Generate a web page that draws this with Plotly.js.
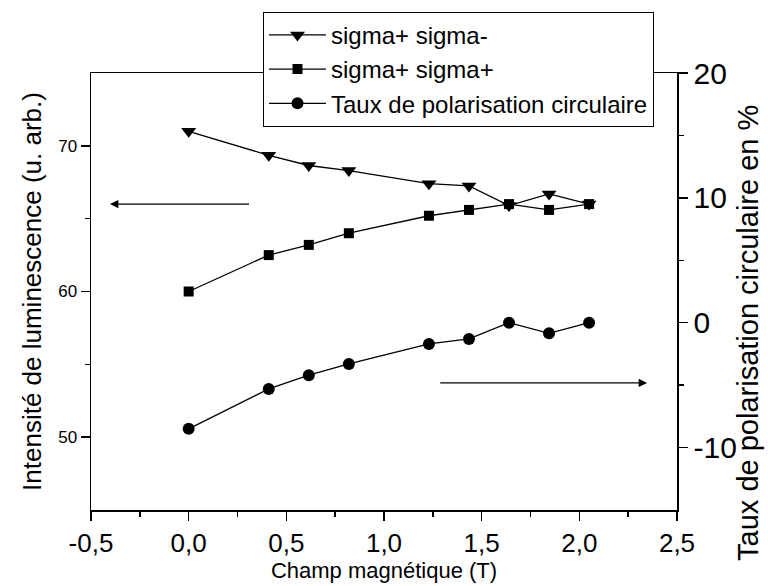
<!DOCTYPE html>
<html>
<head>
<meta charset="utf-8">
<script src="https://cdn.plot.ly/plotly-3.0.1.min.js"></script>
<style>html,body{margin:0;padding:0;background:#fff;}#chart{width:768px;height:586px;}</style>
</head>
<body>
<div id="chart"></div>
<script>
// Champ magnétique (T)
const champ = [0, 0.41, 0.615, 0.82, 1.23, 1.435, 1.64, 1.845, 2.05];
// Intensité de luminescence (u. arb.)
const sigmaPlusSigmaMinus = [71.0, 69.35, 68.65, 68.3, 67.4, 67.25, 65.9, 66.7, 66.0];
const sigmaPlusSigmaPlus = [60.0, 62.5, 63.2, 64.0, 65.2, 65.6, 66.0, 65.6, 66.0];
// Taux de polarisation circulaire en %
const tauxPolarisation = [-8.5, -5.3, -4.2, -3.3, -1.7, -1.3, 0.0, -0.85, 0.0];

const xTickVals = [-0.5, 0, 0.5, 1.0, 1.5, 2.0, 2.5];
const xTickText = ["-0,5", "0,0", "0,5", "1,0", "1,5", "2,0", "2,5"];
const xMinorVals = [-0.25, 0.25, 0.75, 1.25, 1.75, 2.25];
const yTickVals = [50, 60, 70];
const yTickText = ["50", "60", "70"];
const yMinorVals = [55, 65];
const y2TickVals = [-10, 0, 10, 20];
const y2TickText = ["-10", "0", "10", "20"];
const y2MinorVals = [-5, 5, 15];
const y2TitleText = "Taux de polarisation circulaire en %";

const FONT = "Arial, 'Liberation Sans', sans-serif";
const lineStyle = {color: "#000", width: 1.3};

const traces = [
  {x: champ, y: sigmaPlusSigmaMinus, name: "sigma+ sigma-", mode: "lines+markers", type: "scatter",
   line: lineStyle, marker: {symbol: "triangle-down", size: 13, color: "#000"}},
  {x: champ, y: sigmaPlusSigmaPlus, name: "sigma+ sigma+", mode: "lines+markers", type: "scatter",
   line: lineStyle, marker: {symbol: "square", size: 10, color: "#000"}},
  {x: champ, y: tauxPolarisation, name: "Taux de polarisation circulaire", mode: "lines+markers", type: "scatter",
   yaxis: "y2", line: lineStyle, marker: {symbol: "circle", size: 12, color: "#000"}}
];

const axisCommon = {
  showgrid: false, zeroline: false, showline: true, linecolor: "#000", linewidth: 1.5,
  ticks: "outside", ticklen: 9, tickwidth: 1.5, tickcolor: "#000"
};

const layout = {
  width: 768, height: 586,
  margin: {l: 91, r: 91, t: 73, b: 76, pad: 0},
  paper_bgcolor: "#fff", plot_bgcolor: "#fff",
  font: {family: FONT, color: "#000"},
  showlegend: true,
  legend: {
    x: 0.2935, y: 1.14, xanchor: "left", yanchor: "top",
    bgcolor: "#fff", bordercolor: "#000", borderwidth: 1,
    font: {family: FONT, size: 24, color: "#000"},
    itemwidth: 57, tracegroupgap: 0
  },
  xaxis: Object.assign({}, axisCommon, {
    range: [-0.5, 2.5], mirror: true,
    tickmode: "array", tickvals: xTickVals, ticktext: xTickText,
    tickfont: {family: FONT, size: 26},
    minor: {tickmode: "array", tickvals: xMinorVals, ticks: "outside", ticklen: 5, tickwidth: 1.5, tickcolor: "#000"},
    title: {text: "Champ magnétique (T)", font: {family: FONT, size: 22}, standoff: 3}
  }),
  yaxis: Object.assign({}, axisCommon, {
    range: [45, 75],
    tickmode: "array", tickvals: yTickVals, ticktext: yTickText,
    tickfont: {family: FONT, size: 17},
    minor: {tickmode: "array", tickvals: yMinorVals, ticks: "outside", ticklen: 5, tickwidth: 1.5, tickcolor: "#000"},
    title: {text: "Intensité de luminescence (u. arb.)", font: {family: FONT, size: 26}, standoff: 9}
  }),
  yaxis2: Object.assign({}, axisCommon, {
    range: [-15, 20], overlaying: "y", side: "right",
    tickmode: "array", tickvals: y2TickVals, ticktext: y2TickText,
    tickfont: {family: FONT, size: 30},
    minor: {tickmode: "array", tickvals: y2MinorVals, ticks: "outside", ticklen: 5, tickwidth: 1.5, tickcolor: "#000"}
  }),
  annotations: [
    {xref: "x", yref: "y", axref: "x", ayref: "y",
     x: -0.403, y: 66, ax: 0.317, ay: 66,
     showarrow: true, arrowhead: 2, arrowsize: 1.4, arrowwidth: 1.2, arrowcolor: "#000", text: ""},
    {xref: "x", yref: "y2", axref: "x", ayref: "y2",
     x: 2.347, y: -4.82, ax: 1.28, ay: -4.82,
     showarrow: true, arrowhead: 2, arrowsize: 1.4, arrowwidth: 1.2, arrowcolor: "#000", text: ""},
    {xref: "paper", yref: "paper", x: 1.121, y: 0.405, xanchor: "center", yanchor: "middle",
     textangle: -90, showarrow: false, text: y2TitleText,
     font: {family: FONT, size: 29, color: "#000"}}
  ]
};

Plotly.newPlot("chart", traces, layout, {displayModeBar: false, staticPlot: true});
</script>
</body>
</html>
